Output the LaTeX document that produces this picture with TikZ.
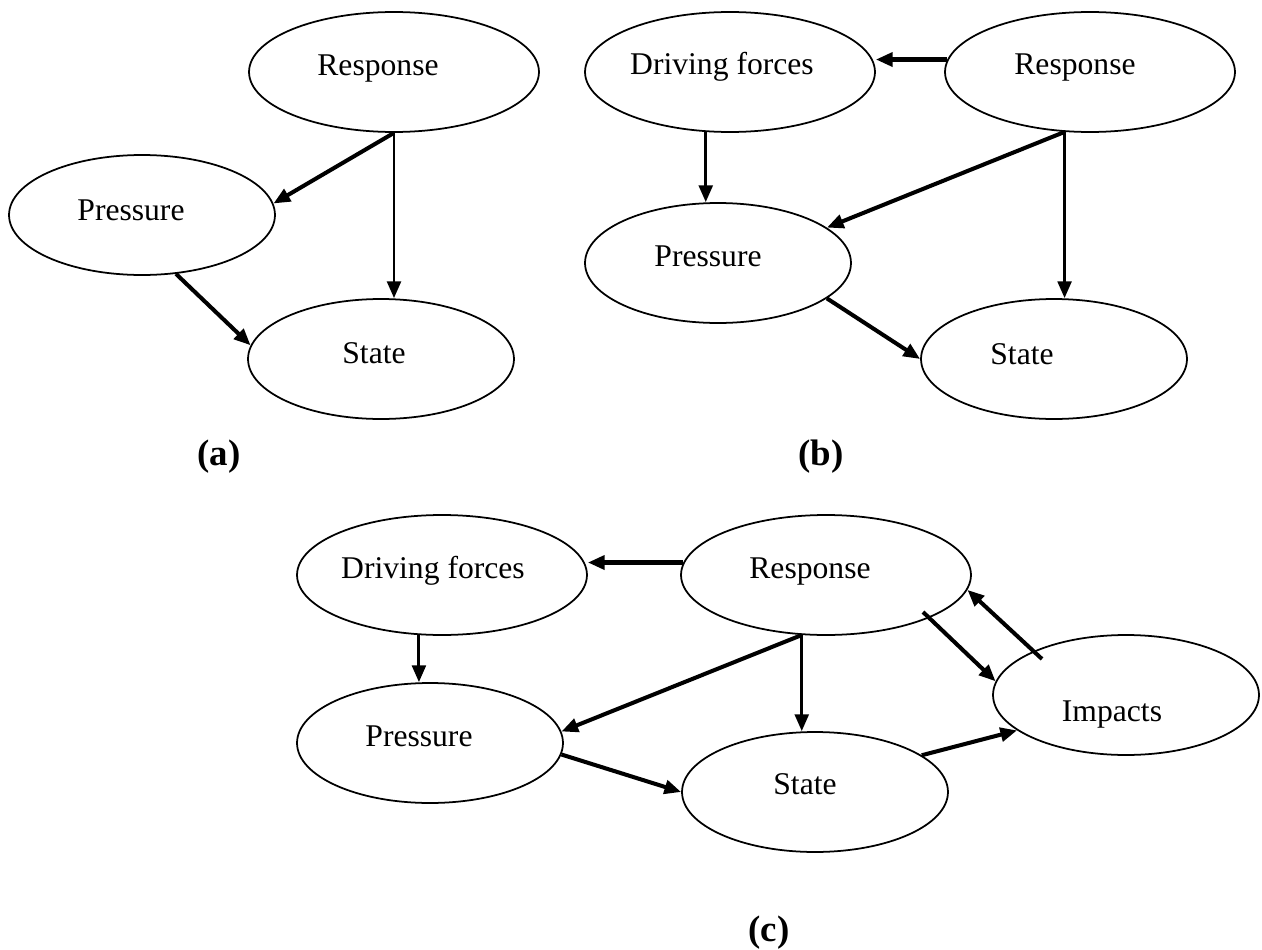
\documentclass[tikz,border=0pt]{standalone}
\usepackage{fontspec}
\setmainfont{Liberation Serif}
\usetikzlibrary{shapes.geometric,arrows.meta}
\begin{document}
\begin{tikzpicture}[x=0.02cm,y=-0.02cm,
  bigell/.style={draw,line width=1pt,ellipse,minimum width=5.8cm,minimum height=2.4cm,inner sep=0pt},
  smallell/.style={draw,line width=1pt,ellipse,minimum width=5.32cm,minimum height=2.4cm,inner sep=0pt},
  txt/.style={anchor=base,inner sep=0pt,font=\fontsize{18}{20}\selectfont},
  lbl/.style={anchor=base,inner sep=0pt,font=\fontsize{21}{24}\selectfont\bfseries},
  arr/.style={line width=2.3pt,-{Triangle[length=9.5pt,width=7.8pt]}},
  arrthin/.style={line width=1.7pt,-{Triangle[length=9.5pt,width=7.8pt]}}]
\useasboundingbox (0,0) rectangle (1262,950);

% ---------- (a) ----------
\node[bigell]   (rA) at (394,72)  {};
\node[smallell] (pA) at (142,215) {};
\node[smallell] (sA) at (381,359) {};
\node[txt] (trA) at (378,75)  {Response};
\node[txt] (tpA) at (131,220) {Pressure};
\node[txt] (tsA) at (374,363) {State};
\draw[arr] (rA.south) -- (pA.5);
\draw[arrthin] (rA.south) -- (rA.south |- sA.north);
\draw[arr] (pA.-60) -- (sA.174);
\node[lbl] (la) at (219,465) {(a)};

% ---------- (b) ----------
\node[bigell]   (dB) at (730,72)   {};
\node[bigell]   (rB) at (1090,72)  {};
\node[smallell] (pB) at (718,263)  {};
\node[smallell] (sB) at (1054,359) {};
\node[txt] (tdB) at (722,74)   {Driving forces};
\node[txt] (trB) at (1075,74)  {Response};
\node[txt] (tpB) at (708,266)  {Pressure};
\node[txt] (tsB) at (1022,364) {State};
\draw[arr] (rB.175) -- (rB.175 -| dB.east);
\draw[arrthin] (dB.-112) -- (dB.-112 |- pB.north);
\draw[arr] (rB.-113) -- (pB.18);
\draw[arrthin] (rB.-113) -- (rB.-113 |- sB.north);
\draw[arr] (pB.-18) -- (sB.west);
\node[lbl] (lb) at (821,465) {(b)};

% ---------- (c) ----------
\node[bigell]   (dC) at (442,575)  {};
\node[bigell]   (rC) at (826,575)  {};
\node[smallell] (iC) at (1126,695) {};
\node[smallell] (pC) at (430,743)  {};
\node[smallell] (sC) at (815,792)  {};
\node[txt] (tdC) at (433,578)  {Driving forces};
\node[txt] (trC) at (810,578)  {Response};
\node[txt] (tiC) at (1112,721) {Impacts};
\node[txt] (tpC) at (419,746)  {Pressure};
\node[txt] (tsC) at (805,794)  {State};
\draw[arr] (rC.175) -- (rC.175 -| dC.east);
\draw[arrthin] (dC.-111) -- (dC.-111 |- pC.north);
\draw[arr] (rC.-112) -- (pC.5);
\draw[arrthin] (rC.-112) -- (rC.-112 |- sC.north);
\draw[arr] (pC.-5) -- (sC.west);
\draw[arr] (sC.19) -- (iC.-162);
\draw[arr] ([shift={(97,37)}]rC.center) -- (iC.174);
\draw[arr] ([shift={(-84,-36)}]iC.center) -- (rC.-6);
\node[lbl] (lc) at (769,941) {(c)};
\end{tikzpicture}
\end{document}
